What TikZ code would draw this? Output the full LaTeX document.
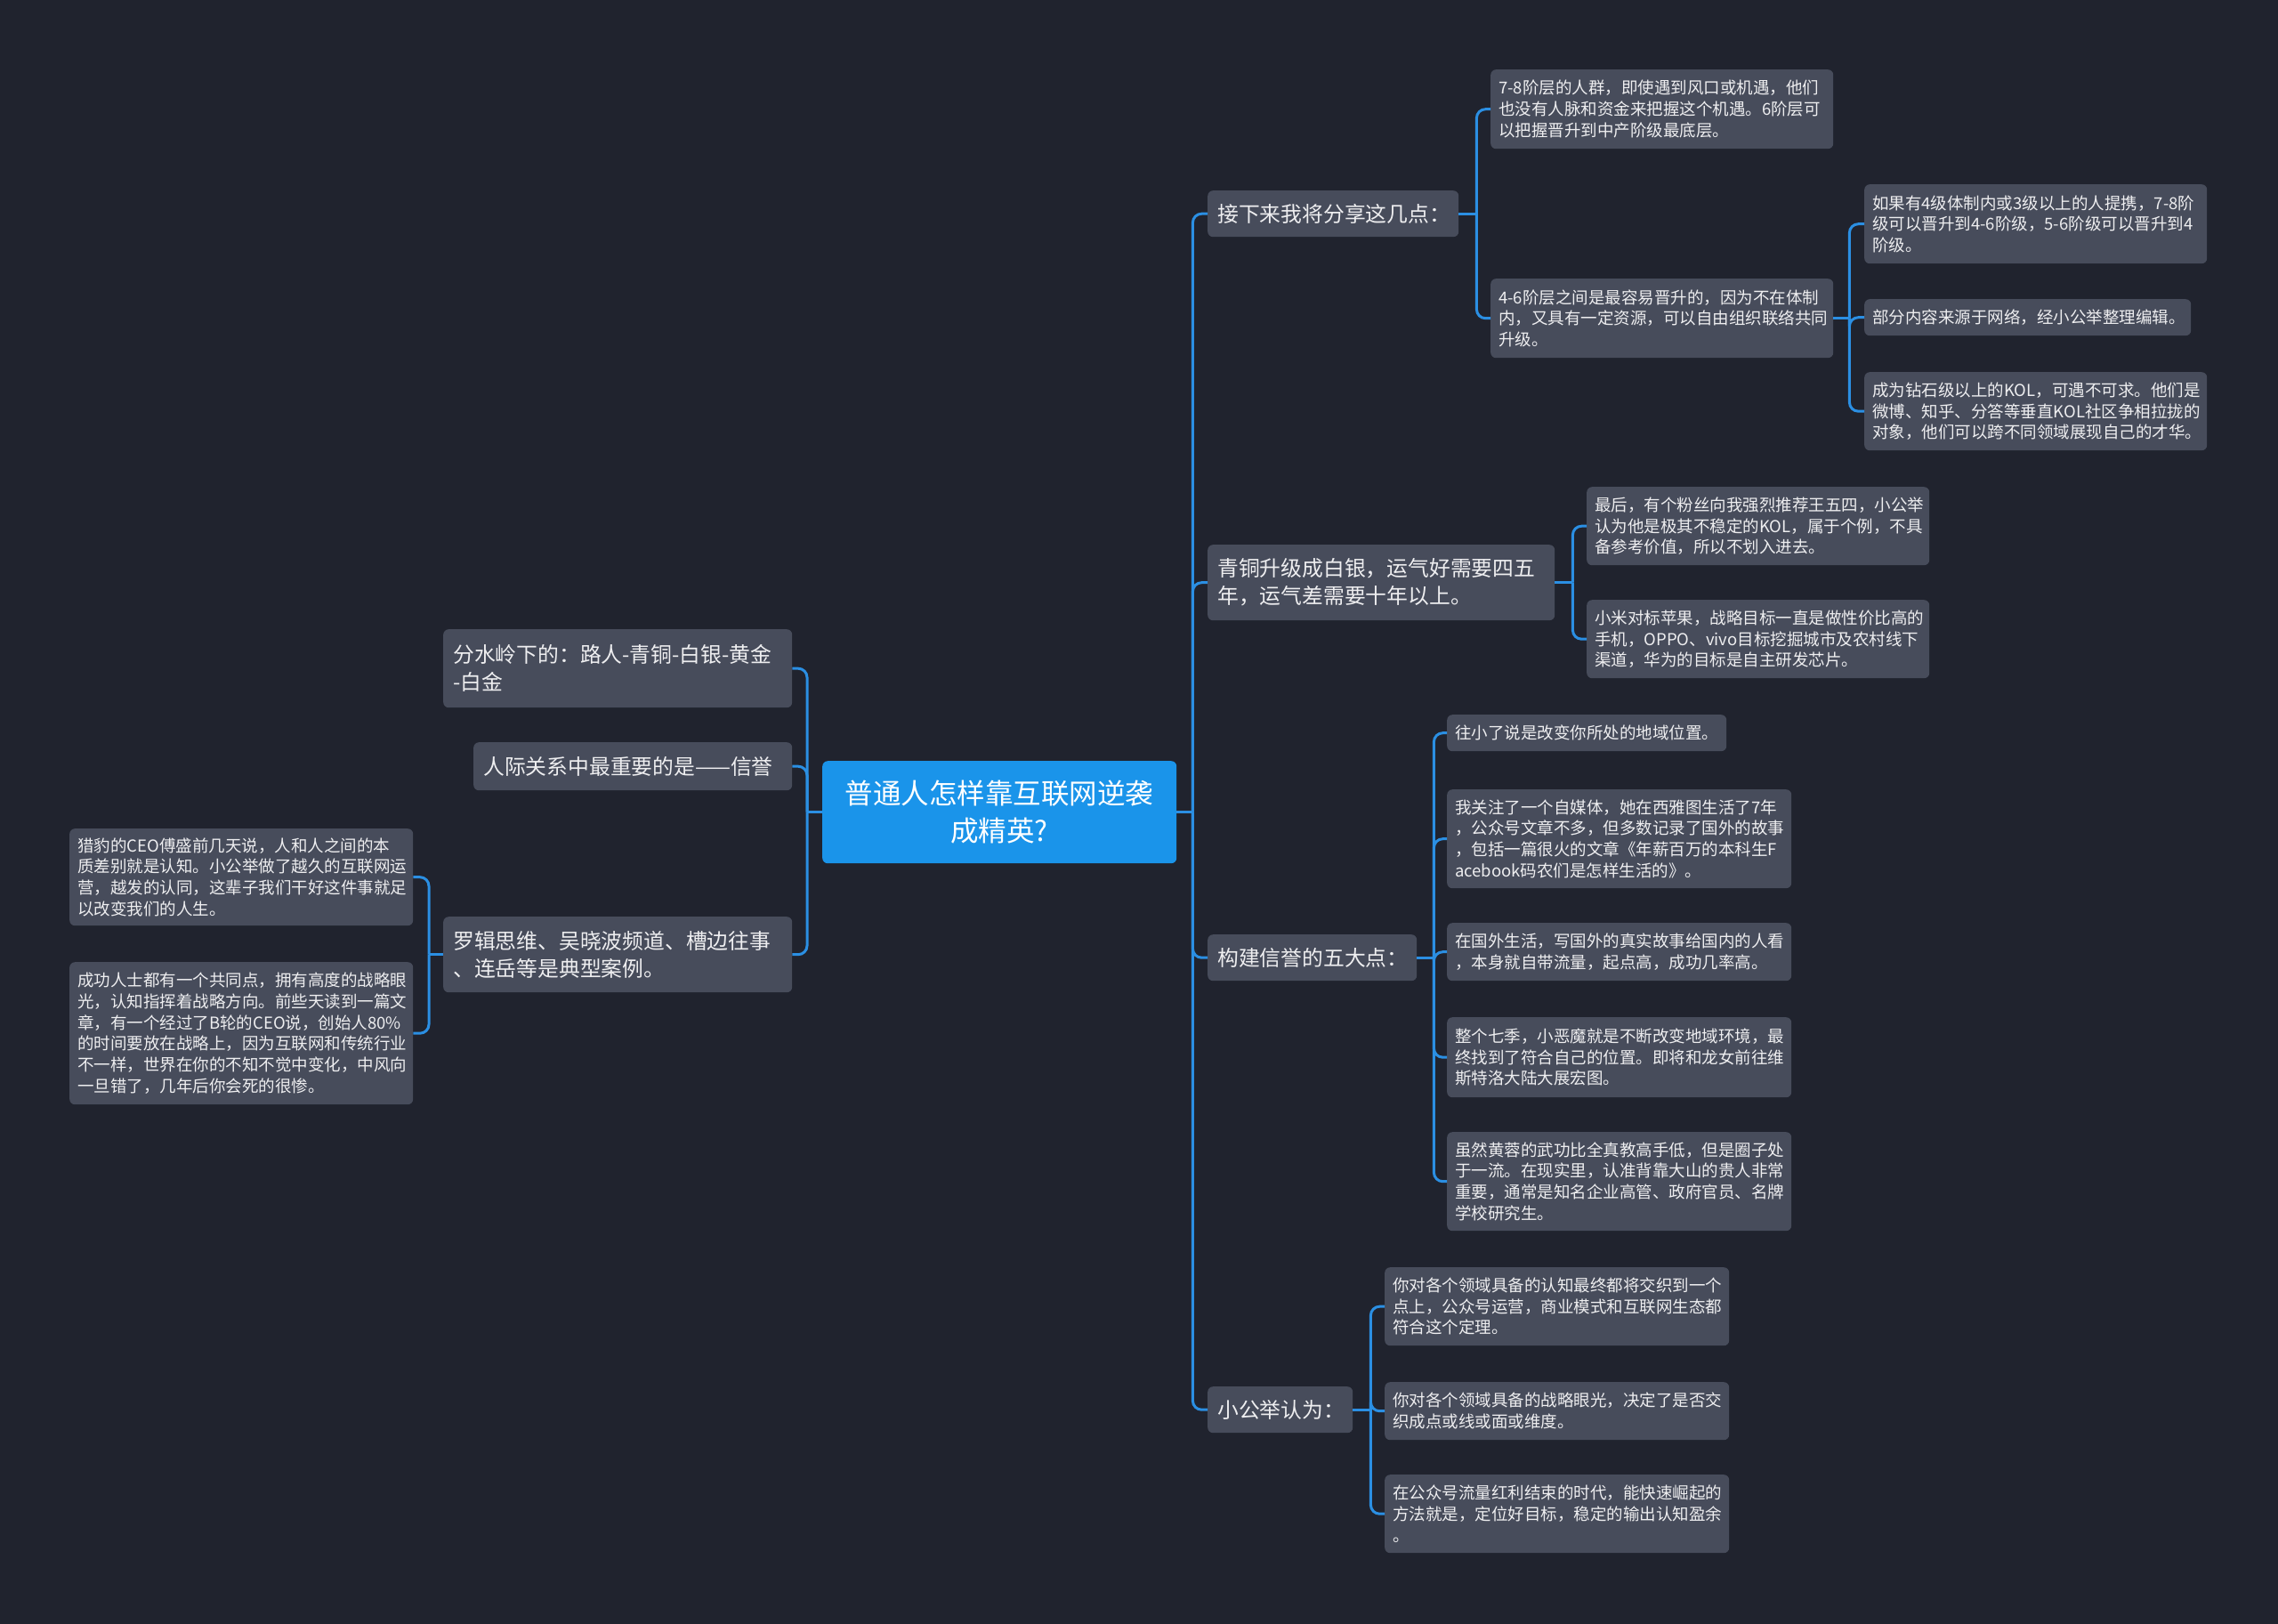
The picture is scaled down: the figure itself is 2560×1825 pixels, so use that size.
\documentclass[tikz,border=0pt]{standalone}
\usepackage{fontspec}
\setmainfont{Noto Sans CJK SC}
\usepackage{tikz}
\usetikzlibrary{positioning, calc}

\definecolor{bgcol}{HTML}{20232E}
\definecolor{nodebg}{HTML}{474C5B}
\definecolor{rootblue}{HTML}{1A94EA}
\definecolor{linkblue}{HTML}{2B8FE3}
\definecolor{txt}{HTML}{EEEEF0}

\begin{document}
\begin{tikzpicture}[x=1pt, y=-1pt,
  leaf/.style={fill=nodebg, rounded corners=6pt, text=txt, anchor=north west,
    align=left, inner xsep=9pt, inner ysep=0pt,
    font=\fontsize{18.5}{23.7}\selectfont},
  topic/.style={leaf, inner xsep=11pt, font=\fontsize{23.8}{31}\selectfont},
  rootbox/.style={fill=rootblue, rounded corners=6pt, text=white, anchor=north west,
    align=center, inner sep=0pt, font=\fontsize{31.5}{42.5}\selectfont},
  link/.style={draw=linkblue, line width=3pt, rounded corners=10pt}]
  % background and page size
  \fill[bgcol] (0,0) rectangle (2560,1825);
  \useasboundingbox (0,0) rectangle (2560,1825);

  % --- root ---
  \node[rootbox, text width=398pt, minimum height=115pt] (root) at (924,855)
    {普通人怎样靠互联网逆袭\\成精英?};

  % --- right: main topics ---
  \node[topic, text width=260pt, minimum height=52pt] (r1) at (1357,214) {接下来我将分享这几点：};
  \node[topic, text width=368pt, minimum height=85pt] (r2) at (1357,612)
    {青铜升级成白银，运气好需要四五\\年，运气差需要十年以上。};
  \node[topic, text width=213pt, minimum height=52pt] (r3) at (1357,1050) {构建信誉的五大点：};
  \node[topic, text width=141pt, minimum height=52pt] (r4) at (1357,1558) {小公举认为：};

  % 接下来我将分享这几点
  \node[leaf, text width=367pt, minimum height=89pt] (a1) at (1675,78)
    {7-8阶层的人群，即使遇到风口或机遇，他们\\也没有人脉和资金来把握这个机遇。6阶层可\\以把握晋升到中产阶级最底层。};
  \node[leaf, text width=367pt, minimum height=89pt] (a2) at (1675,313)
    {4-6阶层之间是最容易晋升的，因为不在体制\\内，又具有一定资源，可以自由组织联络共同\\升级。};
  \node[leaf, text width=367pt, minimum height=89pt] (a21) at (2095,207)
    {如果有4级体制内或3级以上的人提携，7-8阶\\级可以晋升到4-6阶级，5-6阶级可以晋升到4\\阶级。};
  \node[leaf, text width=349pt, minimum height=41pt] (a22) at (2095,336)
    {部分内容来源于网络，经小公举整理编辑。};
  \node[leaf, text width=367pt, minimum height=88pt] (a23) at (2095,418)
    {成为钻石级以上的KOL，可遇不可求。他们是\\微博、知乎、分答等垂直KOL社区争相拉拢的\\对象，他们可以跨不同领域展现自己的才华。};

  % 青铜升级成白银
  \node[leaf, text width=367pt, minimum height=88pt] (b1) at (1783,547)
    {最后，有个粉丝向我强烈推荐王五四，小公举\\认为他是极其不稳定的KOL，属于个例，不具\\备参考价值，所以不划入进去。};
  \node[leaf, text width=367pt, minimum height=88pt] (b2) at (1783,674)
    {小米对标苹果，战略目标一直是做性价比高的\\手机，OPPO、vivo目标挖掘城市及农村线下\\渠道，华为的目标是自主研发芯片。};

  % 构建信誉的五大点
  \node[leaf, text width=296pt, minimum height=41pt] (c1) at (1626,803)
    {往小了说是改变你所处的地域位置。};
  \node[leaf, text width=369pt, minimum height=111pt] (c2) at (1626,887)
    {我关注了一个自媒体，她在西雅图生活了7年\\，公众号文章不多，但多数记录了国外的故事\\，包括一篇很火的文章《年薪百万的本科生F\\acebook码农们是怎样生活的》。};
  \node[leaf, text width=369pt, minimum height=65pt] (c3) at (1626,1037)
    {在国外生活，写国外的真实故事给国内的人看\\，本身就自带流量，起点高，成功几率高。};
  \node[leaf, text width=369pt, minimum height=90pt] (c4) at (1626,1143)
    {整个七季，小恶魔就是不断改变地域环境，最\\终找到了符合自己的位置。即将和龙女前往维\\斯特洛大陆大展宏图。};
  \node[leaf, text width=369pt, minimum height=111pt] (c5) at (1626,1272)
    {虽然黄蓉的武功比全真教高手低，但是圈子处\\于一流。在现实里，认准背靠大山的贵人非常\\重要，通常是知名企业高管、政府官员、名牌\\学校研究生。};

  % 小公举认为
  \node[leaf, text width=369pt, minimum height=88pt] (d1) at (1556,1424)
    {你对各个领域具备的认知最终都将交织到一个\\点上，公众号运营，商业模式和互联网生态都\\符合这个定理。};
  \node[leaf, text width=369pt, minimum height=65pt] (d2) at (1556,1553)
    {你对各个领域具备的战略眼光，决定了是否交\\织成点或线或面或维度。};
  \node[leaf, text width=369pt, minimum height=88pt] (d3) at (1556,1657)
    {在公众号流量红利结束的时代，能快速崛起的\\方法就是，定位好目标，稳定的输出认知盈余\\。};

  % --- left side ---
  \node[topic, text width=370pt, minimum height=88pt] (l1) at (498,707)
    {分水岭下的：路人-青铜-白银-黄金\\-白金};
  \node[topic, text width=336pt, minimum height=54pt] (l2) at (532,834)
    {人际关系中最重要的是——信誉};
  \node[topic, text width=370pt, minimum height=85pt] (l3) at (498,1030)
    {罗辑思维、吴晓波频道、槽边往事\\、连岳等是典型案例。};
  \node[leaf, text width=368pt, minimum height=109pt] (l31) at (78,931)
    {猎豹的CEO傅盛前几天说，人和人之间的本\\质差别就是认知。小公举做了越久的互联网运\\营，越发的认同，这辈子我们干好这件事就足\\以改变我们的人生。};
  \node[leaf, text width=368pt, minimum height=160pt] (l32) at (78,1081)
    {成功人士都有一个共同点，拥有高度的战略眼\\光，认知指挥着战略方向。前些天读到一篇文\\章，有一个经过了B轮的CEO说，创始人80\%\\的时间要放在战略上，因为互联网和传统行业\\不一样，世界在你的不知不觉中变化，中风向\\一旦错了，几年后你会死的很惨。};

  % --- connectors ---
  \coordinate (rj) at ([xshift=18pt]root.east);
  \coordinate (lj) at ([xshift=-17pt]root.west);
  \coordinate (aj) at ([xshift=20pt]r1.east);
  \coordinate (a2j) at ([xshift=18pt]a2.east);
  \coordinate (bj) at ([xshift=20pt]r2.east);
  \coordinate (cj) at ([xshift=19pt]r3.east);
  \coordinate (dj) at ([xshift=20pt]r4.east);
  \coordinate (l3j) at ([xshift=-16pt]l3.west);

  \draw[link] (root.east) -- (rj);
  \foreach \c in {r1,r2,r3,r4} \draw[link] (rj) |- (\c.west);
  \draw[link] (root.west) -- (lj);
  \foreach \c in {l1,l2,l3} \draw[link] (lj) |- (\c.east);

  \draw[link] (r1.east) -- (aj);
  \foreach \c in {a1,a2} \draw[link] (aj) |- (\c.west);
  \draw[link] (a2.east) -- (a2j);
  \foreach \c in {a21,a22,a23} \draw[link] (a2j) |- (\c.west);
  \draw[link] (r2.east) -- (bj);
  \foreach \c in {b1,b2} \draw[link] (bj) |- (\c.west);
  \draw[link] (r3.east) -- (cj);
  \foreach \c in {c1,c2,c3,c4,c5} \draw[link] (cj) |- (\c.west);
  \draw[link] (r4.east) -- (dj);
  \foreach \c in {d1,d2,d3} \draw[link] (dj) |- (\c.west);
  \draw[link] (l3.west) -- (l3j);
  \foreach \c in {l31,l32} \draw[link] (l3j) |- (\c.east);
\end{tikzpicture}
\end{document}
